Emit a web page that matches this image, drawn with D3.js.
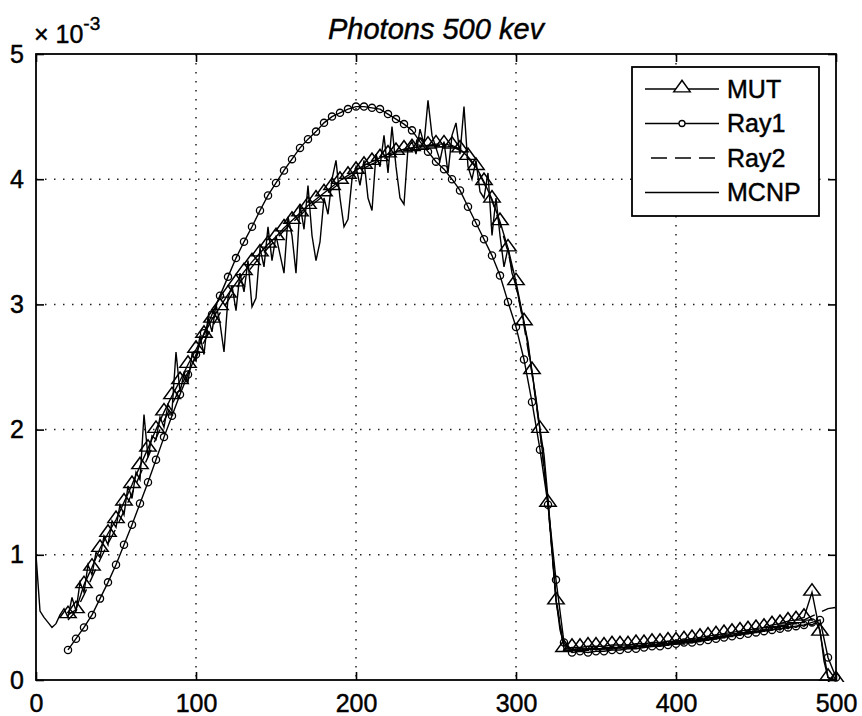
<!DOCTYPE html>
<html>
<head>
<meta charset="utf-8">
<script src="https://d3js.org/d3.v7.min.js"></script>
<style>
body { margin:0; background:#fff; }
text { font-family: "Liberation Sans", Arial, sans-serif; fill:#000; stroke:#000; stroke-width:0.45px; }
</style>
</head>
<body>
<script>
// values in units of 1e-3
const xTicks = [0, 100, 200, 300, 400, 500]
const yTicks = [0, 1, 2, 3, 4, 5]
const seriesNames = ["MUT", "Ray1", "Ray2", "MCNP"]
const titleText = "Photons 500 kev"

// MUT, Ray1, Ray2 sampled at x = 20, 25, ... 500
const modelX0 = 20, modelStep = 5
const mut = [
  0.52, 0.56, 0.76, 0.90, 1.05, 1.17, 1.28, 1.42, 1.56, 1.71,
  1.85, 2.00, 2.14, 2.27, 2.39, 2.52, 2.64, 2.76, 2.88, 2.98,
  3.08, 3.17, 3.26, 3.34, 3.41, 3.48, 3.54, 3.61, 3.67, 3.73,
  3.79, 3.84, 3.89, 3.94, 3.99, 4.03, 4.07, 4.11, 4.14, 4.17,
  4.20, 4.22, 4.24, 4.25, 4.26, 4.27, 4.28, 4.28, 4.27, 4.24,
  4.18, 4.10, 3.98, 3.84, 3.66, 3.45, 3.18, 2.86, 2.47, 2.00,
  1.41, 0.63, 0.25, 0.26, 0.26, 0.27, 0.27, 0.27, 0.28, 0.28,
  0.28, 0.29, 0.29, 0.30, 0.30, 0.31, 0.31, 0.32, 0.33, 0.34,
  0.35, 0.36, 0.37, 0.38, 0.39, 0.40, 0.41, 0.42, 0.44, 0.45,
  0.47, 0.48, 0.50, 0.70, 0.38, 0.02, 0.00]
const ray1 = [
  0.24, 0.33, 0.42, 0.52, 0.65, 0.78, 0.92, 1.08, 1.24, 1.41,
  1.58, 1.76, 1.94, 2.11, 2.28, 2.44, 2.60, 2.77, 2.92, 3.07,
  3.22, 3.37, 3.50, 3.62, 3.75, 3.87, 3.97, 4.07, 4.16, 4.25,
  4.32, 4.38, 4.45, 4.50, 4.53, 4.56, 4.58, 4.58, 4.57, 4.56,
  4.52, 4.48, 4.44, 4.39, 4.30, 4.22, 4.14, 4.08, 4.00, 3.91,
  3.78, 3.65, 3.52, 3.39, 3.23, 3.02, 2.82, 2.56, 2.22, 1.84,
  1.40, 0.80, 0.30, 0.22, 0.23, 0.22, 0.23, 0.23, 0.24, 0.24,
  0.25, 0.25, 0.26, 0.27, 0.27, 0.28, 0.29, 0.30, 0.30, 0.31,
  0.32, 0.33, 0.34, 0.35, 0.36, 0.37, 0.38, 0.39, 0.40, 0.41,
  0.42, 0.43, 0.44, 0.46, 0.48, 0.18, 0.02]
const ray2 = [
  0.48, 0.55, 0.68, 0.82, 0.96, 1.09, 1.21, 1.35, 1.49, 1.64,
  1.78, 1.93, 2.07, 2.20, 2.33, 2.46, 2.58, 2.70, 2.82, 2.93,
  3.03, 3.13, 3.22, 3.30, 3.38, 3.45, 3.52, 3.59, 3.65, 3.71,
  3.77, 3.82, 3.87, 3.92, 3.97, 4.01, 4.05, 4.09, 4.12, 4.15,
  4.18, 4.21, 4.23, 4.25, 4.26, 4.27, 4.27, 4.27, 4.26, 4.23,
  4.17, 4.09, 3.97, 3.83, 3.64, 3.42, 3.15, 2.83, 2.45, 1.98,
  1.40, 0.66, 0.24, 0.24, 0.24, 0.25, 0.25, 0.25, 0.26, 0.26,
  0.27, 0.27, 0.28, 0.28, 0.29, 0.29, 0.30, 0.31, 0.31, 0.32,
  0.33, 0.34, 0.35, 0.36, 0.37, 0.38, 0.39, 0.40, 0.41, 0.43,
  0.44, 0.46, 0.48, 0.51, 0.54, 0.57, 0.58]

// MCNP tally at x = 0, 2.5, ... 500
const mcnpStep = 2.5
const mcnp = [
  1.00, 0.55, 0.50, 0.46, 0.42, 0.45, 0.52, 0.57, 0.50, 0.66,
  0.55, 0.78, 0.70, 0.92, 0.84, 1.02, 0.98, 1.15, 1.08, 1.27,
  1.22, 1.40, 1.32, 1.55, 1.45, 1.66, 1.60, 2.12, 1.78, 1.95,
  1.92, 2.10, 2.02, 2.20, 2.15, 2.62, 2.30, 2.45, 2.38, 2.60,
  2.55, 2.75, 2.60, 2.90, 2.78, 3.00, 2.85, 2.62, 3.05, 3.15,
  2.95, 3.25, 3.10, 3.35, 2.98, 3.05, 3.45, 3.30, 3.62, 3.35,
  3.55, 3.40, 3.25, 3.70, 3.55, 3.25, 3.80, 3.60, 3.95, 3.55,
  3.35, 3.50, 3.85, 3.72, 4.00, 4.15, 3.85, 3.62, 3.68, 4.00,
  4.10, 3.95, 4.15, 3.85, 3.75, 4.20, 4.10, 4.35, 4.05, 4.42,
  4.10, 3.85, 3.80, 4.25, 4.30, 4.20, 4.40, 4.28, 4.63, 4.35,
  4.25, 4.15, 4.30, 4.05, 4.35, 4.45, 4.20, 4.58, 4.10, 4.00,
  4.15, 3.90, 3.85, 4.05, 3.55, 3.85, 3.55, 3.30, 3.45, 3.25,
  3.15, 3.00, 2.85, 2.70, 2.45, 2.25, 2.00, 1.80, 1.45, 1.05,
  0.65, 0.40, 0.28,
  0.26, 0.24, 0.25, 0.23, 0.25, 0.24, 0.26, 0.24, 0.25, 0.26,
  0.24, 0.26, 0.25, 0.27, 0.26, 0.27, 0.26, 0.28, 0.27, 0.28,
  0.27, 0.29, 0.28, 0.29, 0.30, 0.29, 0.30, 0.31, 0.30, 0.31,
  0.32, 0.31, 0.32, 0.33, 0.32, 0.34, 0.33, 0.34, 0.35, 0.34,
  0.36, 0.35, 0.37, 0.36, 0.37, 0.38, 0.37, 0.39, 0.38, 0.40,
  0.39, 0.40, 0.41, 0.40, 0.42, 0.41, 0.43, 0.42, 0.44, 0.43,
  0.45, 0.44, 0.46,
  0.40, 0.15, 0.02, 0.00, 0.00]

const W = 862, H = 716,
  L = 36, R = 836, T = 54, B = 680,
  fs = 25, tick = 8, lw = 1.4

let svg = d3.select("body").append("svg")
  .attr("width", W)
  .attr("height", H)

const x = d3.scaleLinear().domain([0, 500]).range([L, R]),
  y = d3.scaleLinear().domain([0, 5]).range([B, T])

// grid
svg.append("g").selectAll("line").data(xTicks.slice(1, -1)).join("line")
  .attr("x1", d => x(d)).attr("x2", d => x(d))
  .attr("y1", T).attr("y2", B)
  .attr("stroke", "#222").attr("stroke-width", 1.5).attr("stroke-dasharray", "1.5,7.5")
svg.append("g").selectAll("line").data(yTicks.slice(1, -1)).join("line")
  .attr("y1", d => y(d)).attr("y2", d => y(d))
  .attr("x1", L).attr("x2", R)
  .attr("stroke", "#222").attr("stroke-width", 1.5).attr("stroke-dasharray", "1.5,7.5")

// axes, ticks inward on all 4 sides
let xb = svg.append("g").attr("transform", "translate(0," + B + ")")
  .call(d3.axisBottom(x).tickValues(xTicks).tickSize(-tick).tickPadding(14).tickFormat(d3.format("d")))
let xt = svg.append("g").attr("transform", "translate(0," + T + ")")
  .call(d3.axisTop(x).tickValues(xTicks).tickSize(-tick).tickFormat(""))
let yl = svg.append("g").attr("transform", "translate(" + L + ",0)")
  .call(d3.axisLeft(y).tickValues(yTicks).tickSize(-tick).tickPadding(12).tickFormat(d3.format("d")))
let yr = svg.append("g").attr("transform", "translate(" + R + ",0)")
  .call(d3.axisRight(y).tickValues(yTicks).tickSize(-tick).tickFormat(""))
for (const g of [xb, xt, yl, yr]) {
  g.select(".domain").remove()
  g.selectAll("line").attr("stroke", "#000").attr("stroke-width", 1.6)
  g.selectAll("text").attr("font-size", fs).attr("font-family", null).attr("fill", null)
}
xb.selectAll("text").attr("dy", "0.71em")

// exponent label
let ex = svg.append("text").attr("x", 34).attr("y", 43).attr("font-size", fs)
ex.append("tspan").text("\u00d7 10")
ex.append("tspan").attr("dy", -13).attr("font-size", 19).text("-3")

svg.append("text").attr("x", (L + R) / 2).attr("y", 39)
  .attr("text-anchor", "middle").attr("font-size", 29).attr("font-style", "italic")
  .text(titleText)

let plot = svg.append("g")
svg.append("defs").append("clipPath").attr("id", "clip")
  .append("rect").attr("x", L).attr("y", T - 10).attr("width", R - L + 10).attr("height", B - T + 12)
plot.attr("clip-path", "url(#clip)")

const line = d3.line().x(d => x(d[0])).y(d => y(d[1]))
const modelPts = arr => arr.map((v, i) => [modelX0 + i * modelStep, v])
const mcnpPts = mcnp.map((v, i) => [i * mcnpStep, v])

const tri = d3.symbol().type(d3.symbolTriangle).size(75)

function drawSeries(pts, kind) {
  plot.append("path").attr("d", line(pts)).attr("fill", "none")
    .attr("stroke", "#000").attr("stroke-width", lw)
    .attr("stroke-dasharray", kind == "dash" ? "14,8" : null)
  if (kind == "tri")
    plot.append("g").selectAll("path").data(pts).join("path")
      .attr("d", tri).attr("transform", d => "translate(" + x(d[0]) + "," + (y(d[1]) - 1) + ") scale(1.25,1)")
      .attr("fill", "none").attr("stroke", "#000").attr("stroke-width", 1.3)
  if (kind == "circ")
    plot.append("g").selectAll("circle").data(pts).join("circle")
      .attr("cx", d => x(d[0])).attr("cy", d => y(d[1])).attr("r", 3.6)
      .attr("fill", "none").attr("stroke", "#000").attr("stroke-width", 1.3)
}
drawSeries(modelPts(mut), "tri")
drawSeries(modelPts(ray1), "circ")
drawSeries(modelPts(ray2), "dash")
drawSeries(mcnpPts, "solid")

// frame
svg.append("rect").attr("x", L).attr("y", T).attr("width", R - L).attr("height", B - T)
  .attr("fill", "none").attr("stroke", "#000").attr("stroke-width", 1.8)

// legend
const kinds = ["tri", "circ", "dash", "solid"]
let lg = svg.append("g")
lg.append("rect").attr("x", 632).attr("y", 67).attr("width", 187).attr("height", 149)
  .attr("fill", "#fff").attr("stroke", "#000").attr("stroke-width", 1.8)
seriesNames.forEach((name, i) => {
  let cy = 89 + i * 34.5
  lg.append("line").attr("x1", 645).attr("x2", 719).attr("y1", cy).attr("y2", cy)
    .attr("stroke", "#000").attr("stroke-width", lw)
    .attr("stroke-dasharray", kinds[i] == "dash" ? "16,8" : null)
    .attr("stroke-dashoffset", kinds[i] == "dash" ? -6 : null)
  if (kinds[i] == "tri")
    lg.append("path").attr("d", tri).attr("transform", "translate(682," + (cy - 1) + ") scale(1.25,1)")
      .attr("fill", "#fff").attr("stroke", "#000").attr("stroke-width", 1.3)
  if (kinds[i] == "circ")
    lg.append("circle").attr("cx", 682).attr("cy", cy).attr("r", 3)
      .attr("fill", "#fff").attr("stroke", "#000").attr("stroke-width", 1.3)
  lg.append("text").attr("x", 727).attr("y", cy).attr("dy", "0.35em")
    .attr("font-size", fs).text(name)
})
</script>
</body>
</html>
